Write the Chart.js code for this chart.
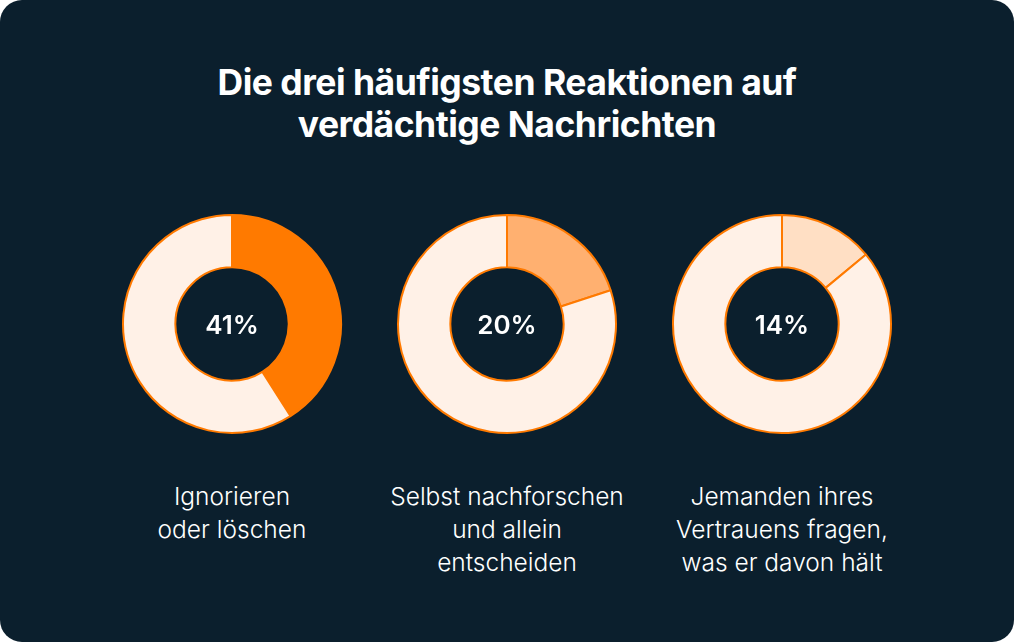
<!DOCTYPE html>
<html>
<head>
<meta charset="utf-8">
<script src="https://cdn.jsdelivr.net/npm/chart.js@4"></script>
<style>
  html, body { margin: 0; padding: 0; background: #ffffff; }
  .card { position: absolute; left: 0; top: 0; width: 1014px; height: 642px; background: #0b1f2d; border-radius: 22px; overflow: hidden; font-family: Inter, "Noto Sans", sans-serif; color: #fff; }
  h1 { position: absolute; top: 62px; left: 0; width: 1014px; margin: 0; text-align: center; font-size: 35.5px; line-height: 42px; font-weight: 700; letter-spacing: -0.5px; }
  .pie { position: absolute; top: 212px; width: 224px; height: 224px; }
  .pct { position: absolute; top: 309px; width: 224px; text-align: center; font-size: 26px; font-weight: 600; }
  .lbl { position: absolute; top: 480px; width: 300px; text-align: center; font-size: 24.5px; line-height: 33px; font-weight: 300; }
</style>
</head>
<body>
<div class="card">
  <h1>Die drei häufigsten Reaktionen auf<br>verdächtige Nachrichten</h1>
  <div class="pie" style="left:120px"><canvas id="c0"></canvas></div>
  <div class="pie" style="left:395px"><canvas id="c1"></canvas></div>
  <div class="pie" style="left:670px"><canvas id="c2"></canvas></div>
  <div class="pct" style="left:120px">41%</div>
  <div class="pct" style="left:395px">20%</div>
  <div class="pct" style="left:670px">14%</div>
  <div class="lbl" style="left:82px">Ignorieren<br>oder löschen</div>
  <div class="lbl" style="left:357px">Selbst nachforschen<br>und allein<br>entscheiden</div>
  <div class="lbl" style="left:632px">Jemanden ihres<br>Vertrauens fragen,<br>was er davon hält</div>
</div>
<script>
const categories = ["Ignorieren oder löschen", "Selbst nachforschen und allein entscheiden", "Jemanden ihres Vertrauens fragen, was er davon hält"];
const shares = [41, 20, 14];
const fillColors = ["#ff7a00", "#ffb070", "#ffdfc4"];

shares.forEach((v, i) => {
  new Chart(document.getElementById("c" + i), {
    type: "doughnut",
    data: {
      labels: [categories[i], "Rest"],
      datasets: [{
        data: [v, 100 - v],
        backgroundColor: [fillColors[i], "#fff1e7"],
        borderColor: "#ff7a00",
        borderWidth: 2,
      }],
    },
    options: {
      responsive: true,
      maintainAspectRatio: true,
      animation: false,
      cutout: "52%",
      layout: { padding: 2 },
      plugins: { legend: { display: false }, tooltip: { enabled: false } },
    },
  });
});
</script>
</body>
</html>
